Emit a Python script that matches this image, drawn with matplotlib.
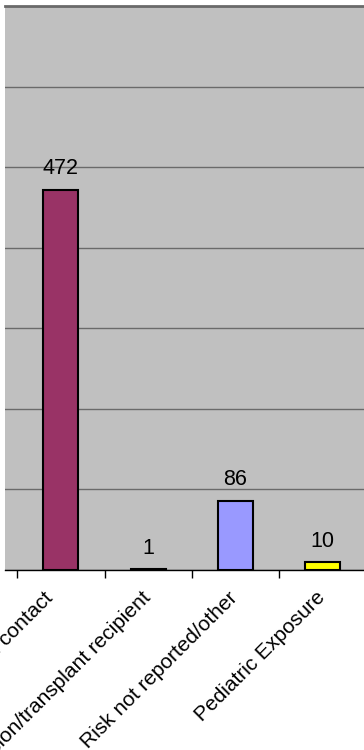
import numpy as np
import matplotlib.pyplot as plt
import matplotlib.transforms as mtransforms
from matplotlib.ticker import FixedLocator, NullFormatter

plt.rcParams['font.family'] = ['Liberation Sans', 'DejaVu Sans']

categories = ['Heterosexual contact', 'Transfusion/transplant recipient',
              'Risk not reported/other', 'Pediatric Exposure']
values = [472, 1, 86, 10]
colors = ['#993366', '#000000', '#9999FF', '#FFFF00']

fig = plt.figure(figsize=(3.64, 7.5), dpi=100)
ax = fig.add_axes([5 / 364, 180 / 750, 1.2, 564 / 750])
ax.set_facecolor('#C0C0C0')

x = np.arange(len(categories))
bars = ax.bar(x, values, width=0.4, color=colors, edgecolor='black',
              linewidth=1.5, zorder=3)

for xi, v in zip(x, values):
    ax.annotate(str(v), (xi, v), xytext=(0, 11), textcoords='offset points',
                ha='center', va='baseline', fontsize=15.5, zorder=4)

ax.set_ylim(0, 700)
ax.set_xlim(-0.641, -0.641 + 1.2 * 364 / 87.3)
ax.set_yticks(np.arange(0, 701, 100))
ax.yaxis.grid(True, color='#6a6a6a', linewidth=1.0, zorder=0)
ax.tick_params(axis='y', left=False, labelleft=False)

ax.set_xticks(x)
ax.set_xticklabels(categories, rotation=45, ha='right', fontsize=15)
ax.tick_params(axis='x', which='major', length=0, pad=13)
# nudge the slanted labels sideways (pixels)
nudges = [-4, 6, 6, 6]
for lbl, dx in zip(ax.get_xticklabels(), nudges):
    shift = mtransforms.ScaledTranslation(dx / 100, 0, fig.dpi_scale_trans)
    lbl.set_transform(lbl.get_transform() + shift)
ax.xaxis.set_minor_locator(FixedLocator(np.arange(-0.5, 4.6, 1.0)))
ax.xaxis.set_minor_formatter(NullFormatter())
ax.tick_params(axis='x', which='minor', length=6, width=1, color='black',
               direction='out')

for s in ['left', 'right']:
    ax.spines[s].set_visible(False)
ax.spines['top'].set_color('#6a6a6a')
ax.spines['top'].set_linewidth(2)
ax.spines['bottom'].set_color('black')
ax.spines['bottom'].set_linewidth(1)

fig.savefig('out.png', dpi=100, facecolor='white')
